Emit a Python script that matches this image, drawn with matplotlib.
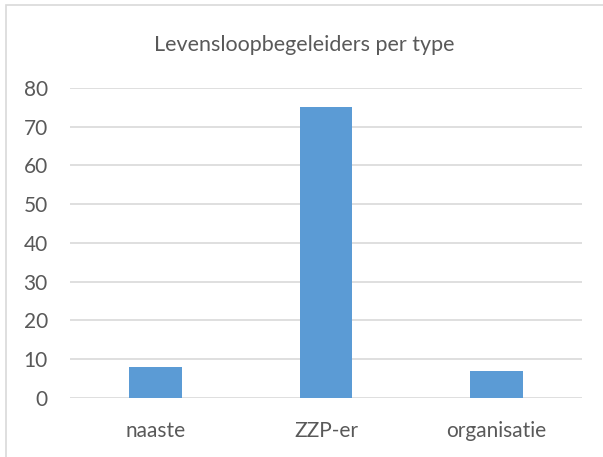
import numpy as np
import matplotlib.pyplot as plt

categories = ['naaste', 'ZZP-er', 'organisatie']
values = [8, 75, 7]
yticks = [0, 10, 20, 30, 40, 50, 60, 70, 80]

text_color = '#595959'
grid_color = '#D9D9D9'
bar_color = '#5B9BD5'

plt.rcParams['font.family'] = ['Lato', 'DejaVu Sans']

fig = plt.figure(figsize=(6.03, 4.57), dpi=100)
ax = fig.add_axes([70 / 603, 1 - 397.7 / 457, 512 / 603, 309.7 / 457])

x = np.arange(len(categories))
ax.bar(x, values, width=0.31, color=bar_color, zorder=3)

ax.set_xlim(-0.5, len(categories) - 0.5)
ax.set_ylim(0, 80)
ax.set_yticks(yticks)
ax.set_xticks(x)
ax.set_xticklabels(categories)
ax.yaxis.grid(True, color=grid_color, linewidth=1.2, zorder=0)
for s in ax.spines.values():
    s.set_visible(False)
ax.tick_params(axis='both', length=0, labelsize=15, labelcolor=text_color)
ax.tick_params(axis='y', pad=16)
ax.tick_params(axis='x', pad=17)

fig.text(0.505, 1 - 45 / 457, 'Levensloopbegeleiders per type',
         ha='center', va='center', fontsize=15.5, color=text_color)

# rand om de grafiek
fig.add_artist(plt.Rectangle((6 / 603, -0.01), 1.2, 1 - 5 / 457 + 0.01,
                             transform=fig.transFigure, fill=False,
                             edgecolor='#D9D9D9', linewidth=1.2))

fig.savefig('out.png', dpi=100)
